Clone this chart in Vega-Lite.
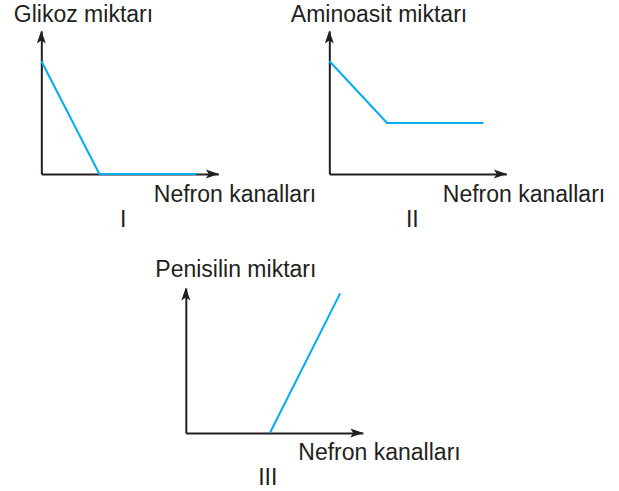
{
  "$schema": "https://vega.github.io/schema/vega-lite/v6.json",
  "padding": {"left": 13, "top": 3, "right": 5, "bottom": 5},
  "background": "white",
  "config": {
    "view": {"stroke": null},
    "font": "Liberation Sans",
    "axis": {
      "ticks": false,
      "labels": false,
      "grid": false,
      "domainColor": "#231f20",
      "domainWidth": 2,
      "titleFont": "Liberation Sans",
      "titleFontSize": 23,
      "titleFontWeight": "normal",
      "titleColor": "#231f20",
      "titleAngle": 0,
      "titleAlign": "left",
      "titleBaseline": "alphabetic"
    },
    "text": {"font": "Liberation Sans", "fontSize": 23, "color": "#231f20", "baseline": "alphabetic", "align": "center"},
    "point": {"filled": true, "opacity": 1, "color": "#231f20", "size": 169}
  },
  "center": true,
  "spacing": 26,
  "vconcat": [
    {
      "bounds": "flush",
      "spacing": 111,
      "hconcat": [
        {
          "width": 177,
          "height": 143,
          "data": {"values": [
            {"part": "curve", "x": 0, "y": 79},
            {"part": "curve", "x": 32.8, "y": 0},
            {"part": "curve", "x": 87.6, "y": 0},
            {"part": "xarrow", "x": 100, "y": 0},
            {"part": "yarrow", "x": 0, "y": 100},
            {"part": "label", "x": 46.3, "y": 0, "label": "I"}
          ]},
          "layer": [
            {"transform": [{"filter": "datum.part === 'curve'"}],
              "mark": {"type": "line", "color": "#00aeef", "strokeWidth": 2},
              "encoding": {
                "x": {"field": "x", "type": "quantitative", "scale": {"domain": [0, 100]},
                  "axis": {"title": "Nefron kanalları", "titleX": 112, "titleY": 27}},
                "y": {"field": "y", "type": "quantitative", "scale": {"domain": [0, 100]},
                  "axis": {"title": "Glikoz miktarı", "titleX": -28, "titleY": -10}}
              }},
            {"transform": [{"filter": "datum.part === 'xarrow'"}],
              "mark": {"type": "point", "shape": "M1,0L-1,-0.7L-0.55,0L-1,0.7Z", "xOffset": -6},
              "encoding": {"x": {"field": "x", "type": "quantitative"}, "y": {"field": "y", "type": "quantitative"}}},
            {"transform": [{"filter": "datum.part === 'yarrow'"}],
              "mark": {"type": "point", "shape": "M0,-1L-0.7,1L0,0.55L0.7,1Z", "yOffset": 6},
              "encoding": {"x": {"field": "x", "type": "quantitative"}, "y": {"field": "y", "type": "quantitative"}}},
            {"transform": [{"filter": "datum.part === 'label'"}],
              "mark": {"type": "text", "dy": 53},
              "encoding": {"x": {"field": "x", "type": "quantitative"}, "y": {"field": "y", "type": "quantitative"}, "text": {"field": "label"}}}
          ]
        },
        {
          "width": 177,
          "height": 143,
          "data": {"values": [
            {"part": "curve", "x": 0, "y": 79},
            {"part": "curve", "x": 32.6, "y": 35.7},
            {"part": "curve", "x": 87, "y": 35.7},
            {"part": "xarrow", "x": 100, "y": 0},
            {"part": "yarrow", "x": 0, "y": 100},
            {"part": "label", "x": 46.9, "y": 0, "label": "II"}
          ]},
          "layer": [
            {"transform": [{"filter": "datum.part === 'curve'"}],
              "mark": {"type": "line", "color": "#00aeef", "strokeWidth": 2},
              "encoding": {
                "x": {"field": "x", "type": "quantitative", "scale": {"domain": [0, 100]},
                  "axis": {"title": "Nefron kanalları", "titleX": 113, "titleY": 27}},
                "y": {"field": "y", "type": "quantitative", "scale": {"domain": [0, 100]},
                  "axis": {"title": "Aminoasit miktarı", "titleX": -39, "titleY": -10}}
              }},
            {"transform": [{"filter": "datum.part === 'xarrow'"}],
              "mark": {"type": "point", "shape": "M1,0L-1,-0.7L-0.55,0L-1,0.7Z", "xOffset": -6},
              "encoding": {"x": {"field": "x", "type": "quantitative"}, "y": {"field": "y", "type": "quantitative"}}},
            {"transform": [{"filter": "datum.part === 'yarrow'"}],
              "mark": {"type": "point", "shape": "M0,-1L-0.7,1L0,0.55L0.7,1Z", "yOffset": 6},
              "encoding": {"x": {"field": "x", "type": "quantitative"}, "y": {"field": "y", "type": "quantitative"}}},
            {"transform": [{"filter": "datum.part === 'label'"}],
              "mark": {"type": "text", "dy": 53},
              "encoding": {"x": {"field": "x", "type": "quantitative"}, "y": {"field": "y", "type": "quantitative"}, "text": {"field": "label"}}}
          ]
        }
      ]
    },
    {
      "width": 177,
      "height": 145,
      "data": {"values": [
        {"part": "curve", "x": 47.5, "y": 0},
        {"part": "curve", "x": 87.2, "y": 96.3},
        {"part": "xarrow", "x": 100, "y": 0},
        {"part": "yarrow", "x": 0, "y": 100},
        {"part": "label", "x": 46.3, "y": 0, "label": "III"}
      ]},
      "layer": [
        {"transform": [{"filter": "datum.part === 'curve'"}],
          "mark": {"type": "line", "color": "#00aeef", "strokeWidth": 2},
          "encoding": {
            "x": {"field": "x", "type": "quantitative", "scale": {"domain": [0, 100]},
              "axis": {"title": "Nefron kanalları", "titleX": 112, "titleY": 26}},
            "y": {"field": "y", "type": "quantitative", "scale": {"domain": [0, 100]},
              "axis": {"title": "Penisilin miktarı", "titleX": -31, "titleY": -12}}
          }},
        {"transform": [{"filter": "datum.part === 'xarrow'"}],
          "mark": {"type": "point", "shape": "M1,0L-1,-0.7L-0.55,0L-1,0.7Z", "xOffset": -6},
          "encoding": {"x": {"field": "x", "type": "quantitative"}, "y": {"field": "y", "type": "quantitative"}}},
        {"transform": [{"filter": "datum.part === 'yarrow'"}],
          "mark": {"type": "point", "shape": "M0,-1L-0.7,1L0,0.55L0.7,1Z", "yOffset": 6},
          "encoding": {"x": {"field": "x", "type": "quantitative"}, "y": {"field": "y", "type": "quantitative"}}},
        {"transform": [{"filter": "datum.part === 'label'"}],
          "mark": {"type": "text", "dy": 52},
          "encoding": {"x": {"field": "x", "type": "quantitative"}, "y": {"field": "y", "type": "quantitative"}, "text": {"field": "label"}}}
      ]
    }
  ]
}
